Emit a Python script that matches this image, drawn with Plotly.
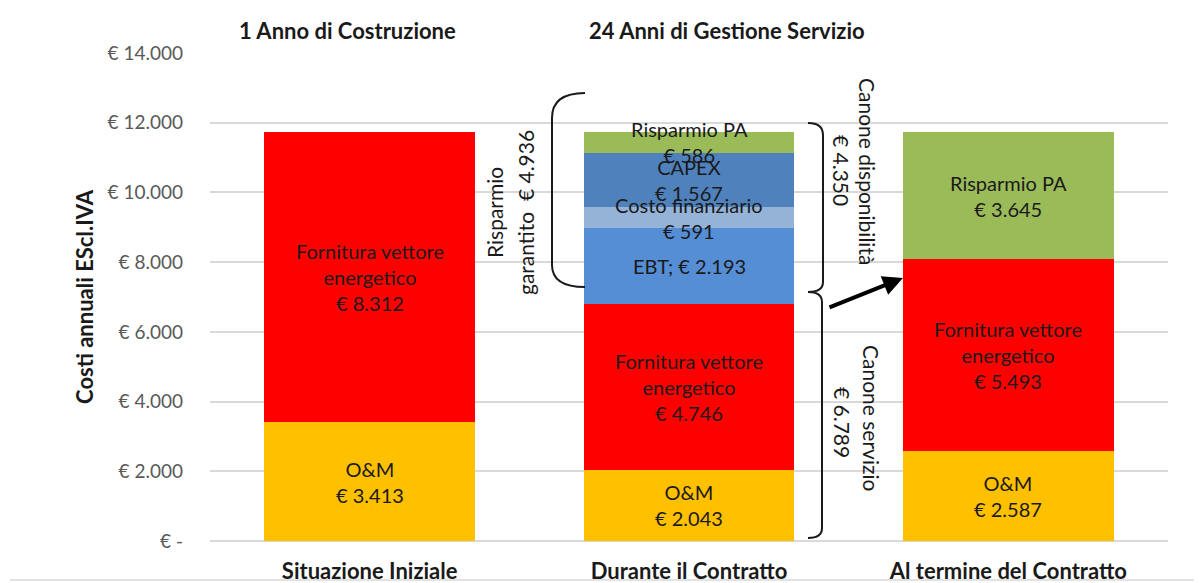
import plotly.graph_objects as go

# data
categories = ["Situazione Iniziale", "Durante il Contratto", "Al termine del Contratto"]
om = [3413, 2043, 2587]
fornitura = [8312, 4746, 5493]
ebt = [0, 2193, 0]
costo_fin = [0, 591, 0]
capex = [0, 1567, 0]
risparmio = [0, 586, 3645]

tick_vals = [0, 2000, 4000, 6000, 8000, 10000, 12000, 14000]
tick_text = ["€ -", "€ 2.000", "€ 4.000", "€ 6.000", "€ 8.000", "€ 10.000", "€ 12.000", "€ 14.000"]

series = [
    ("O&M", om, "#FFC000", "O&M<br>€ {}"),
    ("Fornitura vettore energetico", fornitura, "#FF0000", "Fornitura vettore<br>energetico<br>€ {}"),
    ("EBT", ebt, "#558ED5", "EBT; € {}"),
    ("Costo finanziario", costo_fin, "#95B3D7", "Costo finanziario<br>€ {}"),
    ("CAPEX", capex, "#4F81BD", "CAPEX<br>€ {}"),
    ("Risparmio PA", risparmio, "#9BBB59", "Risparmio PA<br>€ {}"),
]

FONT = "Lato"

def eur(v):
    return f"{v:,}".replace(",", ".")

# page body has an 8px margin, so the figure is drawn 8px in and 8px down
OFF = 8
W, H = 1202 - OFF, 583 - OFF
# plot area in screenshot pixels (for decorations)
L, R, T, B = 210, 1168, 53, 541
def px(x):
    return (x - L) / (R - L)
def py(y):
    return (B - y) / (B - T)

fig = go.Figure()
base = [0, 0, 0]
labels = []
for name, vals, color, fmt in series:
    fig.add_trace(go.Bar(x=categories, y=vals, name=name, marker_color=color,
                         marker_line_width=0, width=0.66))
    for i, v in enumerate(vals):
        if v:
            labels.append(dict(x=categories[i], y=base[i] + v / 2, text=fmt.format(eur(v)),
                               showarrow=False, xref="x", yref="y",
                               font=dict(family=FONT, size=20, color="#1a1a1a")))
        base[i] += v

fig.update_layout(
    barmode="stack",
    width=W, height=H,
    margin=dict(l=L - OFF, r=W - (R - OFF), t=T - OFF, b=H - (B - OFF)),
    paper_bgcolor="white", plot_bgcolor="white",
    showlegend=False,
    font=dict(family=FONT),
)

fig.update_yaxes(range=[0, 14000], tickvals=tick_vals, ticktext=tick_text, automargin=False,
                 showgrid=True, gridcolor="#D9D9D9", gridwidth=1.5,
                 zeroline=True, zerolinecolor="#D9D9D9", zerolinewidth=1.5,
                 ticks="", ticklabelstandoff=26,
                 tickfont=dict(family=FONT, size=19, color="#595959"),
                 title=dict(text="<b>Costi annuali EScl.IVA</b>", standoff=7,
                            font=dict(family=FONT, size=22, color="#1a1a1a")))
fig.update_xaxes(showgrid=False, ticks="", ticklabelstandoff=15, showline=False, automargin=False,
                 tickfont=dict(family=FONT, size=22, color="#1a1a1a"),
                 tickvals=categories, ticktext=[f"<b>{c}</b>" for c in categories])

anns = list(labels)

def txt(x, y, text, angle=0, size=21, bold=False):
    if bold:
        text = f"<b>{text}</b>"
    anns.append(dict(x=px(x), y=py(y), xref="paper", yref="paper", text=text,
                     showarrow=False, textangle=angle, xanchor="center", yanchor="middle",
                     font=dict(family=FONT, size=size, color="#1a1a1a")))

txt(347, 31, "1 Anno di Costruzione", size=22, bold=True)
txt(727, 31, "24 Anni di Gestione Servizio", size=22, bold=True)
txt(494, 213, "Risparmio", angle=-90)
txt(525, 213, "garantito  € 4.936", angle=-90)
txt(868, 171, "Canone disponibilità", angle=90)
txt(842, 170, "€ 4.350", angle=90)
txt(872, 418, "Canone servizio", angle=90)
txt(843, 422, "€ 6.789", angle=90)

# arrow
anns.append(dict(x=px(903), y=py(278), xref="paper", yref="paper", ax=-75, ay=30,
                 axref="pixel", ayref="pixel", showarrow=True, arrowhead=2,
                 arrowsize=1, arrowwidth=4, arrowcolor="black", text=""))
fig.update_layout(annotations=anns)

def path(points):
    parts = []
    for cmd, *c in points:
        coords = []
        for j in range(0, len(c), 2):
            coords.append(f"{px(c[j]):.5f},{py(c[j + 1]):.5f}")
        parts.append(cmd + " " + " ".join(coords))
    return " ".join(parts)

left_brace = path([("M", 585, 93), ("Q", 552, 93, 552, 118), ("L", 552, 265),
                   ("Q", 552, 287, 585, 287)])
right_brace = path([("M", 808, 123), ("Q", 823, 123, 823, 135), ("L", 823, 282),
                    ("Q", 823, 292, 808, 292), ("Q", 822, 292, 822, 302),
                    ("L", 822, 528), ("Q", 822, 538, 808, 538)])
for p in (left_brace, right_brace):
    fig.add_shape(type="path", path=p, xref="paper", yref="paper",
                  line=dict(color="#1a1a1a", width=2))

# bottom border line
fig.add_shape(type="line", xref="paper", yref="paper", x0=px(10), x1=px(1202),
              y0=py(580), y1=py(580), line=dict(color="#D9D9D9", width=1.5))

fig.write_html("out.html")
